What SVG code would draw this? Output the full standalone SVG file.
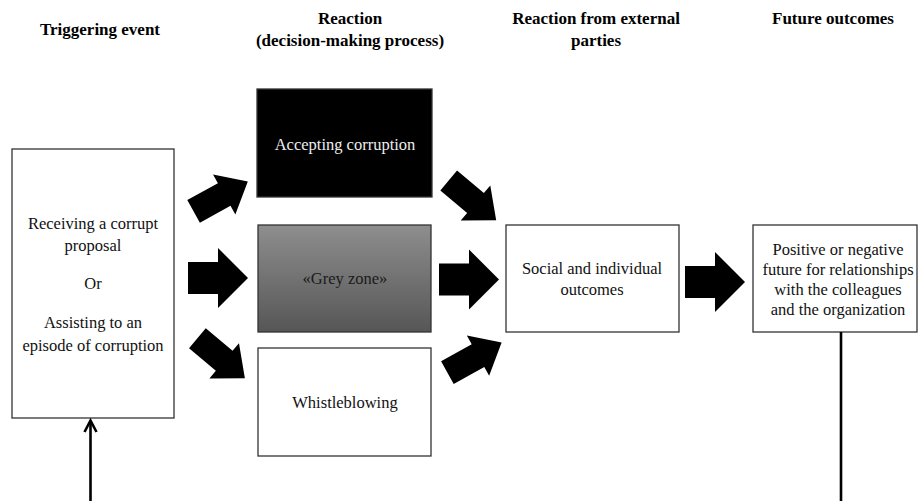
<svg xmlns="http://www.w3.org/2000/svg" width="919" height="501" viewBox="0 0 919 501">
<style>
.h{font-family:"Liberation Serif","Times New Roman",serif;font-weight:bold;font-size:17px;fill:#000;text-anchor:middle}
.t{font-family:"Liberation Serif","Times New Roman",serif;font-size:16.5px;fill:#111;text-anchor:middle}
.box{stroke:#333;stroke-width:1.3}
.ln{stroke:#000;stroke-width:2.6;fill:none}
</style>
<defs>
<linearGradient id="grey" x1="0" y1="0" x2="0" y2="1">
<stop offset="0" stop-color="#8e8e8e"/>
<stop offset="1" stop-color="#565656"/>
</linearGradient>
<path id="bigArrow" d="M-30,-16 H0 V-30 L30,0 L0,30 V16 H-30 Z" fill="#000"/>
<path id="diagArrow" d="M-35,-13 H0 V-23 L27,0 L0,23 V13 H-35 Z" fill="#000"/>
</defs>

<g id="headers">
<text class="h" x="100" y="35">Triggering event</text>
<text class="h" x="350" y="24">Reaction</text>
<text class="h" x="350" y="46">(decision-making process)</text>
<text class="h" x="596" y="24">Reaction from external</text>
<text class="h" x="596" y="46">parties</text>
<text class="h" x="833" y="24">Future outcomes</text>
</g>

<g id="trigger">
<rect class="box" x="12" y="149" width="162" height="269" fill="#fff"/>
<text class="t" x="93" y="229">Receiving  a corrupt</text>
<text class="t" x="93" y="251">proposal</text>
<text class="t" x="93" y="289">Or</text>
<text class="t" x="93" y="328">Assisting  to an</text>
<text class="t" x="93" y="351">episode  of corruption</text>
</g>

<g id="accepting">
<rect class="box" x="257" y="89" width="175" height="108" fill="#000"/>
<text class="t" x="345" y="150" style="fill:#eee">Accepting  corruption</text>
</g>

<g id="greyzone">
<rect class="box" x="258" y="225" width="173" height="107" fill="url(#grey)"/>
<text class="t" x="345" y="284" style="fill:#1a1a1a">«Grey  zone»</text>
</g>

<g id="whistleblowing">
<rect class="box" x="258" y="348" width="173" height="108" fill="#fff"/>
<text class="t" x="345" y="408">Whistleblowing</text>
</g>

<g id="social">
<rect class="box" x="506" y="225" width="173" height="107" fill="#fff"/>
<text class="t" x="592" y="274">Social and individual</text>
<text class="t" x="592" y="295">outcomes</text>
</g>

<g id="future">
<rect class="box" x="753" y="225" width="164" height="107" fill="#fff"/>
<text class="t" x="838" y="255">Positive or negative</text>
<text class="t" x="838" y="275">future for relationships</text>
<text class="t" x="838" y="295">with the colleagues</text>
<text class="t" x="838" y="315">and the organization</text>
</g>

<g id="connectors">
<use href="#diagArrow" transform="translate(224.2,194.5) rotate(-29)"/>
<use href="#bigArrow" transform="translate(218,278)"/>
<use href="#diagArrow" transform="translate(224.2,360.8) rotate(40)"/>
<use href="#diagArrow" transform="translate(475.5,203) rotate(40)"/>
<use href="#bigArrow" transform="translate(469,279.5)"/>
<use href="#diagArrow" transform="translate(478,355.7) rotate(-29)"/>
<use href="#bigArrow" transform="translate(715,282)"/>
<line class="ln" x1="90.5" y1="501" x2="90.5" y2="421"/>
<polyline class="ln" points="84.5,432 90.5,420.5 96.5,432"/>
<line class="ln" x1="841" y1="332" x2="841" y2="501"/>
</g>
</svg>
